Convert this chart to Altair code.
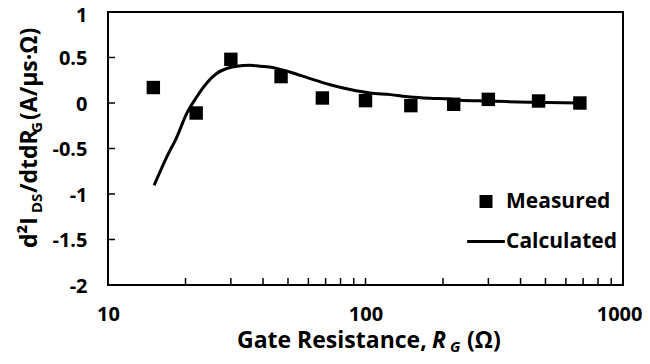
import altair as alt
import pandas as pd

# Measured data
meas_x = [15, 22, 30, 47, 68, 100, 150, 220, 300, 470, 680]
meas_y = [0.17, -0.11, 0.48, 0.29, 0.055, 0.026, -0.029, -0.014, 0.04, 0.022, 0.0]

# Calculated curve
calc_x = [15.1, 16.9, 18.5, 20.2, 22.1, 24.1, 26.4, 28.9, 31.6, 35.6, 38.9, 42.3,
          50.8, 60.9, 72.9, 87.2, 104, 125, 149, 178, 213, 233, 296, 434, 682]
calc_y = [-0.906, -0.595, -0.374, -0.117, 0.066, 0.214, 0.324, 0.379, 0.404, 0.415,
          0.404, 0.396, 0.341, 0.268, 0.2, 0.148, 0.11, 0.092, 0.066, 0.052, 0.044,
          0.03, 0.022, 0.008, 0.0]

x_labels = [10, 100, 1000]
x_minor = [20, 30, 40, 50, 60, 70, 80, 90, 100, 200, 300, 400, 500, 600, 700, 800, 900]
y_labels = [-2, -1.5, -1, -0.5, 0, 0.5, 1]
y_minor = [-1.5, -1, -0.5, 0, 0.5]

series = ["Measured", "Calculated"]

W, H = 515, 273
FONT = "Open Sans"
TICK_FS = 20
LEG_FS = 21
TITLE_FS = 23
SUB_FS = 15

meas_df = pd.DataFrame({"x": meas_x, "y": meas_y, "series": "Measured"})
calc_df = pd.DataFrame({"x": calc_x, "y": calc_y})

xscale = alt.Scale(type="log", domain=[10, 1000], nice=False)
yscale = alt.Scale(domain=[-2, 1], nice=False)

xaxis = alt.Axis(values=x_labels, labelExpr="datum.value + ''", title=None, grid=False,
                 domain=False, ticks=False, labelPadding=19, labelFontSize=TICK_FS,
                 labelFont=FONT, labelFontWeight="bold", labelColor="black",
                 labelOverlap=False, labelFlush=False,
                 labelAlign=alt.condition("datum.value >= 1000", alt.value("right"), alt.value("center")),
                 labelOffset=alt.condition("datum.value >= 1000", alt.value(19), alt.value(0)))
yaxis = alt.Axis(values=y_labels, labelExpr="datum.value + ''", title=None, grid=False,
                 domain=False, ticks=False, labelPadding=21, labelFontSize=TICK_FS,
                 labelFont=FONT, labelFontWeight="bold", labelColor="black",
                 labelOverlap=False, labelFlush=False,
                 labelOffset=alt.condition("datum.value >= 1", alt.value(3), alt.value(1)))

line_path = "M-2.9,-0.23H2.9V0.23H-2.9Z"

points = alt.Chart(meas_df).mark_point(filled=True, color="black", opacity=1, size=180).encode(
    x=alt.X("x:Q", scale=xscale, axis=xaxis),
    y=alt.Y("y:Q", scale=yscale, axis=yaxis),
    shape=alt.Shape("series:N", scale=alt.Scale(domain=series, range=["square", line_path]),
                    legend=alt.Legend(title=None, orient="none", legendX=367.5, legendY=179,
                                      labelFont=FONT, labelFontSize=LEG_FS, labelFontWeight="bold",
                                      labelColor="black", labelOffset=9.5, symbolSize=169,
                                      symbolFillColor="black", symbolStrokeColor="black",
                                      symbolStrokeWidth=0, rowPadding=18, padding=0)),
)

line = alt.Chart(calc_df).mark_line(color="black", strokeWidth=3, interpolate="monotone").encode(
    x=alt.X("x:Q", scale=xscale),
    y=alt.Y("y:Q", scale=yscale),
)

ytick_df = pd.DataFrame({"y": y_minor})
yticks = alt.Chart(ytick_df).mark_rule(color="black", strokeWidth=1.5).encode(
    y=alt.Y("y:Q", scale=yscale), x=alt.value(0), x2=alt.value(7))

xtick_df = pd.DataFrame({"x": x_minor})
xticks = alt.Chart(xtick_df).mark_rule(color="black", strokeWidth=1.5).encode(
    x=alt.X("x:Q", scale=xscale), y=alt.value(H - 7), y2=alt.value(H))

# Titles with subscripts, built from text pieces
ytitle_text = ["d\u00b2I", "DS", "/dtdR", "G", "(A/\u03bcs\u00b7\u03a9)"]
ytitle_size = [TITLE_FS, SUB_FS, TITLE_FS, SUB_FS, TITLE_FS]
ytitle_x = [-71, -66, -71, -66, -71]
ytitle_y = [236, 201, 181, 121, 108]

xtitle_text = ["Gate Resistance,", "R", "G", "(\u03a9)"]
xtitle_size = [TITLE_FS, TITLE_FS, SUB_FS, TITLE_FS]
xtitle_style = ["normal", "italic", "italic", "normal"]
xtitle_x = [129, 324, 342, 359]
xtitle_y = [336, 336, 340, 336]

title_layers = []
for t, s, xx, yy in zip(ytitle_text, ytitle_size, ytitle_x, ytitle_y):
    title_layers.append(
        alt.Chart(pd.DataFrame({"t": [t]})).mark_text(
            font=FONT, fontWeight="bold", fontSize=s, angle=270, align="left",
            baseline="alphabetic", color="black").encode(
            text="t:N", x=alt.value(xx), y=alt.value(yy)))
for t, s, st, xx, yy in zip(xtitle_text, xtitle_size, xtitle_style, xtitle_x, xtitle_y):
    title_layers.append(
        alt.Chart(pd.DataFrame({"t": [t]})).mark_text(
            font=FONT, fontWeight="bold", fontStyle=st, fontSize=s, align="left",
            baseline="alphabetic", color="black").encode(
            text="t:N", x=alt.value(xx), y=alt.value(yy)))

chart = alt.layer(line, points, yticks, xticks, *title_layers).properties(
    width=W, height=H,
    autosize=alt.AutoSizeParams(type="none"),
    padding={"left": 100, "top": 4, "right": 19, "bottom": 70},
    background="white",
).configure_view(stroke="black", strokeWidth=2)

chart.save("out.html", embed_options={"renderer": "svg", "actions": False})
